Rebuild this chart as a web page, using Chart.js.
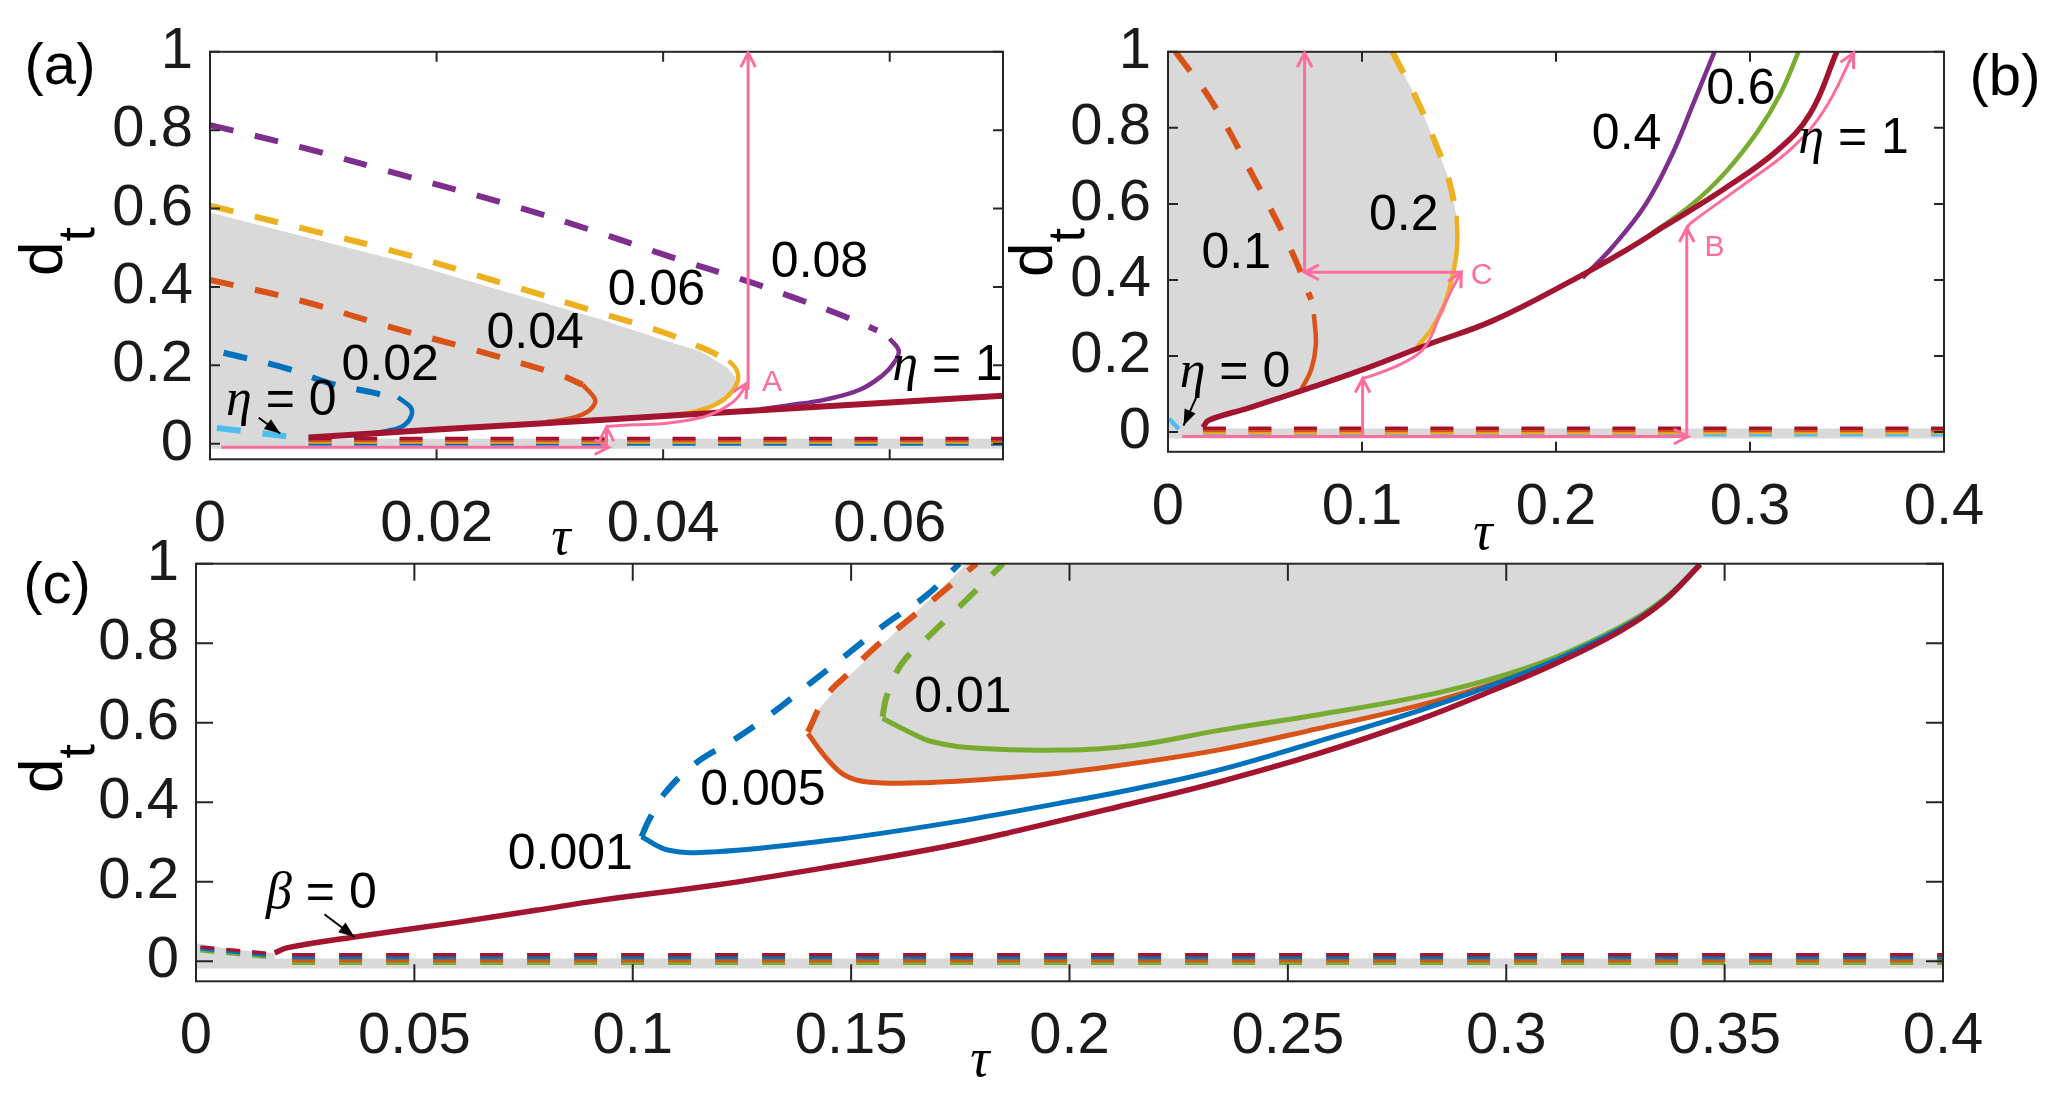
<!DOCTYPE html>
<html>
<head>
<meta charset="utf-8">
<title>d_t versus tau</title>
<script src="https://cdn.jsdelivr.net/npm/chart.js"></script>
<style>
  body { margin: 0; background: #ffffff; width: 2067px; height: 1098px; position: relative; overflow: hidden;
         font-family: "Liberation Sans", Arial, sans-serif; }
  canvas { position: absolute; }
  .lbl { position: absolute; color: #000; white-space: nowrap; line-height: 1; }
  .panel { font-size: 58px; transform: translate(-50%, -50%); }
  .tau { font-family: "Liberation Serif", "Times New Roman", serif; font-style: italic; font-size: 54px; transform: translate(-50%, -50%); }
  .dt { font-size: 62px; transform-origin: 0 0; transform: rotate(-90deg); }
  .dt sub { font-size: 52px; vertical-align: -32px; }
</style>
</head>
<body>
<canvas id="chartA" width="1040" height="560" style="left:0px;top:0px"></canvas>
<canvas id="chartB" width="1027" height="560" style="left:1040px;top:0px"></canvas>
<canvas id="chartC" width="2067" height="598" style="left:0px;top:500px"></canvas>

<div class="lbl panel" style="left:60px;top:64px">(a)</div>
<div class="lbl panel" style="left:2005px;top:75px">(b)</div>
<div class="lbl panel" style="left:57px;top:583px">(c)</div>
<div class="lbl dt" style="left:10px;top:276px">d<sub>t</sub></div>
<div class="lbl dt" style="left:1000px;top:277px">d<sub>t</sub></div>
<div class="lbl dt" style="left:10px;top:793px">d<sub>t</sub></div>
<div class="lbl tau" style="left:561px;top:536px">τ</div>
<div class="lbl tau" style="left:1483px;top:531px">τ</div>
<div class="lbl tau" style="left:980px;top:1058px">τ</div>

<script>
// ---- colours (MATLAB default order) ----
var BLUE = "#0072BD", ORANGE = "#D95319", YELLOW = "#EDB120", PURPLE = "#7E2F8E",
    GREEN = "#77AC30", LBLUE = "#4DBEEE", DRED = "#A2142F", PINK = "#FF6C9E", GREY = "#D9D9D9";

// ---- tick values ----
var Y_TICKS = [0, 0.2, 0.4, 0.6, 0.8, 1];
var A_X_TICKS = [0, 0.02, 0.04, 0.06];
var B_X_TICKS = [0, 0.1, 0.2, 0.3, 0.4];
var C_X_TICKS = [0, 0.05, 0.1, 0.15, 0.2, 0.25, 0.3, 0.35, 0.4];

// ---- panel (a): [tau, d_t] ----
var A_ETA0 = [[0.0006, 0.040], [0.0087, 0.012]];
var A_ETA002_UNST = [[0.0012, 0.232], [0.0069, 0.191], [0.0106, 0.154], [0.0144, 0.130], [0.0166, 0.113]];
var A_ETA002_ST = [[0.0166, 0.118], [0.0177, 0.093], [0.0178, 0.073], [0.0172, 0.048], [0.0162, 0.036], [0.0145, 0.027]];
var A_ETA004_UNST = [[0, 0.418], [0.0081, 0.364], [0.0156, 0.30], [0.0232, 0.24], [0.0309, 0.175], [0.0329, 0.150]];
var A_ETA004_ST = [[0.0329, 0.150], [0.0338, 0.122], [0.0340, 0.105], [0.0333, 0.081], [0.0318, 0.064], [0.0297, 0.055]];
var A_ETA006_UNST = [[0, 0.607], [0.0081, 0.55], [0.017, 0.485], [0.0258, 0.41], [0.0344, 0.334], [0.0403, 0.281], [0.0438, 0.240], [0.0458, 0.212]];
var A_ETA006_ST = [[0.0458, 0.212], [0.0465, 0.187], [0.0466, 0.162], [0.0460, 0.130], [0.0447, 0.101], [0.0427, 0.081], [0.0403, 0.072]];
var A_ETA008_UNST = [[0, 0.813], [0.0081, 0.756], [0.017, 0.685], [0.0264, 0.61], [0.0344, 0.538], [0.0402, 0.481], [0.0477, 0.412], [0.0513, 0.375], [0.0552, 0.334], [0.0589, 0.289]];
var A_ETA008_ST = [[0.0600, 0.268], [0.0608, 0.236], [0.0603, 0.203], [0.0594, 0.175], [0.0574, 0.138], [0.0544, 0.113], [0.0509, 0.097], [0.0486, 0.088]];
var A_ETA1 = [[0.0087, 0.0155], [0.02, 0.036], [0.0344, 0.0605], [0.05, 0.088], [0.07, 0.122]];
var A_REGION = [[0, 0.59], [0.0081, 0.53], [0.017, 0.465], [0.0258, 0.39], [0.0344, 0.318], [0.0403, 0.262], [0.0433, 0.236],
                [0.0456, 0.195], [0.0464, 0.170], [0.0463, 0.150], [0.0457, 0.125], [0.0445, 0.100], [0.0425, 0.082],
                [0.0403, 0.072], [0.0344, 0.0605], [0.02, 0.036], [0.0087, 0.0155], [0.0087, 0], [0, 0]];
var A_LOW_LEVELS = [0.013, 0.008, 0.004, -0.001];
var A_LOW_X = [0.0087, 0.07];
var A_BAND = [[0, 0], [0.07, 0]];
var A_PATH_H = [[0.001, -0.009], [0.0352, -0.009]];
var A_PATH_V1 = [[0.035, -0.009], [0.035, 0.042]];
var A_PATH_C = [[0.035, 0.044], [0.0374, 0.048], [0.0403, 0.052], [0.0433, 0.066], [0.045, 0.085], [0.0462, 0.107], [0.0469, 0.130], [0.0474, 0.154]];
var A_PATH_V2 = [[0.0475, 0.138], [0.0475, 0.997]];
var A_POINTER = [[0.0043, 0.066], [0.0062, 0.026]];

// ---- panel (b) ----
var B_ETA0 = [[0.0005, 0.035], [0.0056, 0.008]];
var B_ETA01_UNST = [[0.0039, 1.0], [0.0227, 0.868], [0.0431, 0.68], [0.0636, 0.477], [0.0738, 0.348]];
var B_ETA01_ST = [[0.0752, 0.310], [0.0762, 0.229], [0.0738, 0.164], [0.0687, 0.112]];
var B_ETA02_UNST = [[0.1157, 1.0], [0.1284, 0.873], [0.1376, 0.763], [0.1444, 0.67], [0.1488, 0.569]];
var B_ETA02_ST = [[0.1488, 0.569], [0.1490, 0.486], [0.1464, 0.404], [0.1420, 0.330], [0.1352, 0.266], [0.1284, 0.224]];
var B_ETA04 = [[0.2136, 0.405], [0.229, 0.486], [0.246, 0.597], [0.2595, 0.726], [0.2715, 0.873], [0.2817, 1.0]];
var B_ETA06 = [[0.2495, 0.523], [0.2697, 0.597], [0.2868, 0.68], [0.3039, 0.79], [0.3158, 0.891], [0.325, 1.0]];
var B_ETA1 = [[0.018, 0.012], [0.021, 0.031], [0.0414, 0.063], [0.072, 0.114], [0.1003, 0.164], [0.1334, 0.229], [0.1675, 0.293],
              [0.2084, 0.399], [0.2357, 0.477], [0.2561, 0.542], [0.2868, 0.640], [0.314, 0.740], [0.3311, 0.838], [0.3447, 1.0]];
var B_REGION = [[0, 1], [0.1157, 1], [0.1284, 0.873], [0.1376, 0.763], [0.1444, 0.67], [0.1488, 0.569], [0.149, 0.486],
                [0.1464, 0.404], [0.142, 0.33], [0.1352, 0.266], [0.1284, 0.224], [0.1003, 0.164], [0.072, 0.114],
                [0.0414, 0.063], [0.021, 0.031], [0.018, 0.012], [0.018, 0], [0, 0]];
var B_LOW_LEVELS = [0.010, 0.004, -0.001, -0.007];
var B_LOW_X = [0.018, 0.4];
var B_BAND = [[0, -0.004], [0.4, -0.004]];
var B_PATH_H = [[0.0073, -0.012], [0.268, -0.012]];
var B_PATH_V1 = [[0.1003, -0.012], [0.1003, 0.141]];
var B_PATH_C1 = [[0.1003, 0.141], [0.1044, 0.147], [0.1198, 0.178], [0.13, 0.21], [0.1352, 0.247], [0.1403, 0.311], [0.1464, 0.376], [0.1512, 0.42]];
var B_PATH_H2 = [[0.1512, 0.42], [0.0704, 0.42]];
var B_PATH_V2 = [[0.0704, 0.42], [0.0704, 0.997]];
var B_PATH_V3 = [[0.2674, -0.012], [0.2674, 0.537]];
var B_PATH_C2 = [[0.2674, 0.537], [0.2698, 0.551], [0.2971, 0.652], [0.321, 0.744], [0.338, 0.845], [0.3534, 0.997]];
var B_POINTER = [[0.0158, 0.105], [0.008, 0.017]];

// ---- panel (c) ----
var C_B0 = [[0.018, 0.021], [0.021, 0.034], [0.0363, 0.061], [0.0594, 0.097], [0.0778, 0.128], [0.0924, 0.153], [0.1187, 0.191],
            [0.145, 0.237], [0.1713, 0.288], [0.188, 0.328], [0.211, 0.388], [0.2339, 0.45], [0.2569, 0.522], [0.2799, 0.607],
            [0.2953, 0.674], [0.3107, 0.746], [0.326, 0.83], [0.336, 0.905], [0.3444, 0.998]];
var C_B001_UNST = [[0.102, 0.313], [0.1037, 0.355], [0.1073, 0.422], [0.1143, 0.497], [0.123, 0.556], [0.1318, 0.623],
                   [0.1406, 0.699], [0.1493, 0.774], [0.1581, 0.85], [0.1669, 0.917], [0.1748, 1.0]];
var C_B001_ST = [[0.102, 0.313], [0.1082, 0.279], [0.1187, 0.275], [0.145, 0.304], [0.1713, 0.346], [0.1975, 0.397], [0.2151, 0.434],
                 [0.2339, 0.48], [0.2569, 0.553], [0.2799, 0.63], [0.2953, 0.688], [0.3107, 0.755], [0.326, 0.835], [0.336, 0.907], [0.3444, 0.998]];
var C_B005_UNST = [[0.1401, 0.577], [0.1441, 0.664], [0.1493, 0.723], [0.1555, 0.79], [0.1625, 0.853], [0.1695, 0.916], [0.1787, 1.0]];
var C_B005_ST = [[0.1401, 0.573], [0.1441, 0.514], [0.1485, 0.468], [0.1537, 0.451], [0.1669, 0.449], [0.1888, 0.464], [0.2063, 0.485],
                 [0.2339, 0.531], [0.2569, 0.585], [0.2799, 0.643], [0.2953, 0.692], [0.3107, 0.752], [0.326, 0.832], [0.336, 0.905], [0.3444, 0.998]];
var C_B01_UNST = [[0.1572, 0.615], [0.1581, 0.665], [0.1616, 0.749], [0.1669, 0.808], [0.1748, 0.892], [0.1848, 1.0]];
var C_B01_ST = [[0.1572, 0.611], [0.1625, 0.581], [0.1686, 0.552], [0.18, 0.535], [0.1975, 0.531], [0.2151, 0.543], [0.2339, 0.58],
                [0.2569, 0.62], [0.2799, 0.665], [0.2953, 0.706], [0.3107, 0.762], [0.326, 0.84], [0.336, 0.91], [0.3444, 0.998]];
var C_REGION = [[0.1765, 1.0], [0.159, 0.816], [0.1485, 0.707], [0.1423, 0.631], [0.1401, 0.577], [0.1441, 0.514], [0.1485, 0.468],
                [0.1537, 0.451], [0.1669, 0.449], [0.1888, 0.464], [0.2063, 0.485], [0.2339, 0.531], [0.2569, 0.585], [0.2799, 0.643],
                [0.2953, 0.692], [0.3107, 0.752], [0.326, 0.832], [0.336, 0.905], [0.3444, 0.998], [0.3444, 1.0]];
var C_REGION0 = [[0, 0.045], [0.008, 0.030], [0.018, 0.020], [0.018, 0], [0, 0]];
var C_START_B0 = [[0.001, 0.036], [0.018, 0.018]];
var C_START_B001 = [[0.001, 0.031], [0.018, 0.013]];
var C_START_B01 = [[0.001, 0.026], [0.018, 0.008]];
var C_LOW_LEVELS = [0.016, 0.009, 0.002, -0.005];
var C_LOW_X = [0.022, 0.4];
var C_BAND = [[0, -0.006], [0.4, -0.006]];
var C_POINTER = [[0.0294, 0.118], [0.0363, 0.061]];

// ---- helpers ----
var SANS = '"Liberation Sans", Arial, Helvetica, sans-serif';
var NUM = "50px " + SANS;
var ETA = 'italic 52px "Liberation Serif", "Times New Roman", serif';
var LETTER = "30px " + SANS;

function xy(pts) { return pts.map(function (p) { return { x: p[0], y: p[1] }; }); }

function curve(pts, color, width, extra) {
  var ds = { data: xy(pts), borderColor: color, backgroundColor: color, borderWidth: width,
             pointRadius: 0, pointHitRadius: 0, fill: false, tension: 0.4, order: 5 };
  for (var k in extra) ds[k] = extra[k];
  return ds;
}
function solid(pts, c, w) { return curve(pts, c, w || 4.5, {}); }
function dashed(pts, c) { return curve(pts, c, 6, { borderDash: [24, 22], order: 6 }); }
function pink(pts) { return curve(pts, PINK, 3, { tension: pts.length > 2 ? 0.4 : 0, order: 1, arrow: "open" }); }
function pointer(pts) { return curve(pts, "#000", 2, { tension: 0, order: 0, arrow: "filled" }); }
function region(pts) {
  return { data: xy(pts), borderWidth: 0, borderColor: GREY, backgroundColor: GREY, pointRadius: 0,
           fill: "shape", tension: 0, order: 20 };
}
function band(pts) { return curve(pts, GREY, 10, { tension: 0, order: 9 }); }
function lowBranches(levels, xr, colors, dash) {
  return levels.map(function (lv, i) {
    return curve([[xr[0], lv], [xr[1], lv]], colors[i], 3.5, { tension: 0, order: 8, borderDash: dash });
  });
}

// box with inward ticks on all four sides
var boxTicks = {
  id: "boxTicks",
  afterDatasetsDraw: function (chart, args, opts) {
    var ctx = chart.ctx, a = chart.chartArea, sx = chart.scales.x, sy = chart.scales.y, L = opts.len;
    ctx.save();
    ctx.strokeStyle = "#262626";
    ctx.lineWidth = 2;
    ctx.setLineDash([]);
    ctx.strokeRect(a.left, a.top, a.right - a.left, a.bottom - a.top);
    ctx.beginPath();
    sx.ticks.forEach(function (t) {
      var px = sx.getPixelForValue(t.value);
      ctx.moveTo(px, a.bottom); ctx.lineTo(px, a.bottom - L);
      ctx.moveTo(px, a.top); ctx.lineTo(px, a.top + L);
    });
    sy.ticks.forEach(function (t) {
      var py = sy.getPixelForValue(t.value);
      ctx.moveTo(a.left, py); ctx.lineTo(a.left + L, py);
      ctx.moveTo(a.right, py); ctx.lineTo(a.right - L, py);
    });
    ctx.stroke();
    ctx.restore();
  }
};

var arrowHeads = {
  id: "arrowHeads",
  afterDatasetsDraw: function (chart) {
    var ctx = chart.ctx;
    ctx.save();
    chart.data.datasets.forEach(function (ds, i) {
      if (!ds.arrow) return;
      var pts = chart.getDatasetMeta(i).data;
      var p = pts[pts.length - 1], q = pts[pts.length - 2];
      var qx = q.x, qy = q.y;
      if (ds.tension > 0 && p.cp1x !== undefined && (p.cp1x !== p.x || p.cp1y !== p.y)) { qx = p.cp1x; qy = p.cp1y; }
      var ang = Math.atan2(p.y - qy, p.x - qx);
      var filled = ds.arrow === "filled";
      var len = filled ? 17 : 16, spread = filled ? 0.36 : 0.48;
      ctx.strokeStyle = ds.borderColor;
      ctx.fillStyle = ds.borderColor;
      ctx.lineWidth = ds.borderWidth;
      ctx.setLineDash([]);
      ctx.beginPath();
      ctx.moveTo(p.x + len * Math.cos(ang + Math.PI - spread), p.y + len * Math.sin(ang + Math.PI - spread));
      ctx.lineTo(p.x, p.y);
      ctx.lineTo(p.x + len * Math.cos(ang + Math.PI + spread), p.y + len * Math.sin(ang + Math.PI + spread));
      if (filled) { ctx.closePath(); ctx.fill(); } else { ctx.stroke(); }
    });
    ctx.restore();
  }
};

// text labels placed in data coordinates (baseline at y, centred on x)
var notes = {
  id: "notes",
  afterDatasetsDraw: function (chart, args, opts) {
    var ctx = chart.ctx, sx = chart.scales.x, sy = chart.scales.y;
    (opts.items || []).forEach(function (n) {
      ctx.save();
      ctx.fillStyle = n.color || "#000";
      ctx.textBaseline = "alphabetic";
      ctx.textAlign = "left";
      var w = 0;
      n.parts.forEach(function (p) { ctx.font = p[1]; w += ctx.measureText(p[0]).width; });
      var px = sx.getPixelForValue(n.x) - w / 2, py = sy.getPixelForValue(n.y);
      n.parts.forEach(function (p) { ctx.font = p[1]; ctx.fillText(p[0], px, py); px += ctx.measureText(p[0]).width; });
      ctx.restore();
    });
  }
};

function makeChart(id, cfg) {
  var tickFont = { family: SANS, size: 58 };
  return new Chart(document.getElementById(id), {
    type: "line",
    data: { datasets: cfg.datasets },
    options: {
      responsive: false,
      animation: false,
      events: [],
      layout: { autoPadding: false, padding: cfg.padding },
      plugins: { legend: { display: false }, tooltip: { enabled: false },
                 boxTicks: { len: cfg.tickLen }, notes: { items: cfg.notes } },
      scales: {
        x: {
          type: "linear", min: cfg.xMin, max: cfg.xMax,
          afterBuildTicks: function (ax) { ax.ticks = cfg.xTicks.map(function (v) { return { value: v }; }); },
          afterFit: function (ax) { ax.height = cfg.xAxisH; },
          grid: { display: false, drawTicks: false }, border: { display: false },
          ticks: { font: tickFont, color: "#1a1a1a", padding: cfg.xPad, maxRotation: 0, minRotation: 0, autoSkip: false,
                   callback: function (v) { return String(v); } }
        },
        y: {
          type: "linear", min: cfg.yMin, max: 1,
          afterBuildTicks: function (ax) { ax.ticks = Y_TICKS.map(function (v) { return { value: v }; }); },
          afterFit: function (ax) { ax.width = cfg.yAxisW; },
          grid: { display: false, drawTicks: false }, border: { display: false },
          ticks: { font: tickFont, color: "#1a1a1a", padding: 17, autoSkip: false,
                   callback: function (v) { return String(v); } }
        }
      }
    },
    plugins: [boxTicks, arrowHeads, notes]
  });
}

// ---- panel (a) ----
makeChart("chartA", {
  padding: { left: 0, top: 35, right: 37, bottom: 0 }, yAxisW: 210, xAxisH: 100.7, tickLen: 10, xPad: 31,
  xMin: 0, xMax: 0.07, yMin: -0.04, xTicks: A_X_TICKS,
  datasets: [
    pink(A_PATH_H), pink(A_PATH_V1), pink(A_PATH_C), pink(A_PATH_V2),
    pointer(A_POINTER),
    curve(A_ETA1, DRED, 6, { order: 4 }),
    solid(A_ETA002_ST, BLUE), solid(A_ETA004_ST, ORANGE), solid(A_ETA006_ST, YELLOW), solid(A_ETA008_ST, PURPLE),
    dashed(A_ETA0, LBLUE), dashed(A_ETA002_UNST, BLUE), dashed(A_ETA004_UNST, ORANGE),
    dashed(A_ETA006_UNST, YELLOW), dashed(A_ETA008_UNST, PURPLE)
  ].concat(lowBranches(A_LOW_LEVELS, A_LOW_X, [DRED, ORANGE, YELLOW, BLUE], [23, 22.5]))
   .concat([band(A_BAND), region(A_REGION)]),
  notes: [
    { x: 0.0159, y: 0.1625, parts: [["0.02", NUM]] },
    { x: 0.0287, y: 0.244, parts: [["0.04", NUM]] },
    { x: 0.0394, y: 0.355, parts: [["0.06", NUM]] },
    { x: 0.0538, y: 0.424, parts: [["0.08", NUM]] },
    { x: 0.0651, y: 0.1625, parts: [["η", ETA], [" = 1", NUM]] },
    { x: 0.0063, y: 0.072, parts: [["η", ETA], [" = 0", NUM]] },
    { x: 0.0496, y: 0.134, parts: [["A", LETTER]], color: PINK }
  ]
});

// ---- panel (b) ----
makeChart("chartB", {
  padding: { left: 0, top: 43.6, right: 123, bottom: 0 }, yAxisW: 128, xAxisH: 108.2, tickLen: 10, xPad: 21,
  xMin: 0, xMax: 0.4, yMin: -0.052, xTicks: B_X_TICKS,
  datasets: [
    pink(B_PATH_H), pink(B_PATH_V1), pink(B_PATH_C1), pink(B_PATH_H2), pink(B_PATH_V2), pink(B_PATH_V3), pink(B_PATH_C2),
    pointer(B_POINTER),
    curve(B_ETA1, DRED, 5.5, { order: 4 }),
    solid(B_ETA01_ST, ORANGE), solid(B_ETA02_ST, YELLOW), solid(B_ETA04, PURPLE), solid(B_ETA06, GREEN),
    solid(B_ETA0, LBLUE),
    dashed(B_ETA01_UNST, ORANGE), dashed(B_ETA02_UNST, YELLOW)
  ].concat(lowBranches(B_LOW_LEVELS, B_LOW_X, [DRED, ORANGE, YELLOW, LBLUE], [23, 22.5]))
   .concat([band(B_BAND), region(B_REGION)]),
  notes: [
    { x: 0.0352, y: 0.431, parts: [["0.1", NUM]] },
    { x: 0.1215, y: 0.532, parts: [["0.2", NUM]] },
    { x: 0.2364, y: 0.744, parts: [["0.4", NUM]] },
    { x: 0.2953, y: 0.864, parts: [["0.6", NUM]] },
    { x: 0.3534, y: 0.735, parts: [["η", ETA], [" = 1", NUM]] },
    { x: 0.0345, y: 0.118, parts: [["η", ETA], [" = 0", NUM]] },
    { x: 0.1617, y: 0.39, parts: [["C", LETTER]], color: PINK },
    { x: 0.2817, y: 0.464, parts: [["B", LETTER]], color: PINK }
  ]
});

// ---- panel (c) ----
makeChart("chartC", {
  padding: { left: 0, top: 63.7, right: 124, bottom: 0 }, yAxisW: 196, xAxisH: 116.7, tickLen: 17, xPad: 21,
  xMin: 0, xMax: 0.4, yMin: -0.0506, xTicks: C_X_TICKS,
  datasets: [
    pointer(C_POINTER),
    curve(C_B0, DRED, 5.5, { order: 4 }),
    solid(C_B001_ST, BLUE, 5), solid(C_B005_ST, ORANGE, 5), solid(C_B01_ST, GREEN, 5),
    dashed(C_B001_UNST, BLUE), dashed(C_B005_UNST, ORANGE), dashed(C_B01_UNST, GREEN),
    curve(C_START_B0, DRED, 3.5, { tension: 0, order: 7, borderDash: [14, 12] }),
    curve(C_START_B001, BLUE, 3.5, { tension: 0, order: 7, borderDash: [14, 12] }),
    curve(C_START_B01, GREEN, 3.5, { tension: 0, order: 7, borderDash: [14, 12] })
  ].concat(lowBranches(C_LOW_LEVELS, C_LOW_X, [DRED, BLUE, ORANGE, GREEN], [23, 24]))
   .concat([band(C_BAND), region(C_REGION), region(C_REGION0)]),
  notes: [
    { x: 0.1756, y: 0.627, parts: [["0.01", NUM]] },
    { x: 0.1298, y: 0.392, parts: [["0.005", NUM]] },
    { x: 0.0857, y: 0.231, parts: [["0.001", NUM]] },
    { x: 0.0287, y: 0.133, parts: [["β", ETA], [" = 0", NUM]] }
  ]
});
</script>
</body>
</html>
